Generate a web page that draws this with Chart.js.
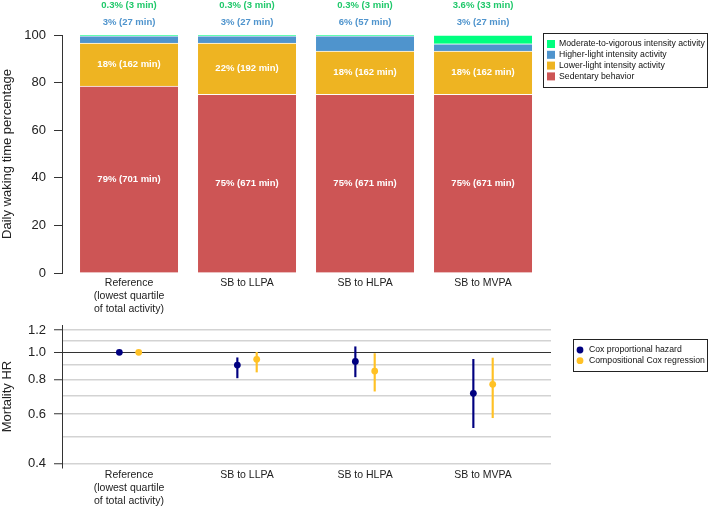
<!DOCTYPE html>
<html>
<head>
<meta charset="utf-8">
<script src="https://cdn.jsdelivr.net/npm/chart.js@4.4.1/dist/chart.umd.min.js"></script>
<style>
  body { margin: 0; background: #fff; }
  #wrap { position: relative; width: 709px; height: 508px; }
  canvas { position: absolute; left: 0; }
  #topChart { top: 0; }
  #hrChart { top: 317px; }
</style>
</head>
<body>
<div id="wrap">
  <canvas id="topChart" width="709" height="317"></canvas>
  <canvas id="hrChart" width="709" height="191"></canvas>
</div>
<script>
// ---------- Data ----------
const groups = [['Reference', '(lowest quartile', 'of total activity)'], 'SB to LLPA', 'SB to HLPA', 'SB to MVPA'];
const groupPos = [1, 2, 3, 4];

// daily waking time, percent
const sbPct   = [78.5, 75.1, 75.1, 75.1];
const llpaPct = [18.1, 21.5, 18.1, 18.1];
const hlpaPct = [3.1, 3.1, 6.5, 3.1];
const mvpaPct = [0.3, 0.3, 0.3, 3.7];

const sbText   = ['79% (701 min)', '75% (671 min)', '75% (671 min)', '75% (671 min)'];
const llpaText = ['18% (162 min)', '22% (192 min)', '18% (162 min)', '18% (162 min)'];
const hlpaText = ['3% (27 min)', '3% (27 min)', '6% (57 min)', '3% (27 min)'];
const mvpaText = ['0.3% (3 min)', '0.3% (3 min)', '0.3% (3 min)', '3.6% (33 min)'];

const pctTicks = [0, 20, 40, 60, 80, 100];

// mortality hazard ratios with 95% CI
const coxHR  = [1.0, 0.90, 0.928, 0.713];
const coxLo  = [null, 0.81, 0.817, 0.537];
const coxHi  = [null, 0.956, 1.047, 0.944];
const compHR = [1.0, 0.944, 0.857, 0.768];
const compLo = [null, 0.85, 0.726, 0.583];
const compHi = [null, 1.0, 0.99, 0.954];

const hrTicks = [0.4, 0.6, 0.8, 1.0, 1.2];
const hrGrid  = [0.4, 0.5, 0.6, 0.7, 0.8, 0.9, 1.0, 1.1, 1.2];

// ---------- Style ----------
const FONT = '"Liberation Sans", Arial, sans-serif';
const dodge = 0.082;
Chart.defaults.font.family = FONT;
Chart.defaults.color = '#222';

const toXY = vals => groupPos.map((x, i) => ({ x: x, y: vals[i] }));
const ptXY = (off, vals) => groupPos.map((x, i) => ({ x: x + off, y: vals[i] }));
const ciXY = (off, lo, hi) => groupPos
  .map((x, i) => (lo[i] == null ? null : { x: x + off, y: [lo[i], hi[i]] }))
  .filter(d => d);

// y axis: fixed width, no extra label padding above/below the plot
const fixY = s => { s.width = 62; s.paddingTop = 0; s.paddingBottom = 0; };

// ---------- Plugins ----------
const barLabels = {
  id: 'barLabels',
  afterDatasetsDraw(chart) {
    const { ctx, chartArea } = chart;
    ctx.save();
    ctx.font = 'bold 9.5px ' + FONT;
    ctx.textAlign = 'center';
    ctx.textBaseline = 'middle';
    [sbText, llpaText].forEach((texts, di) => {
      chart.getDatasetMeta(di).data.forEach((bar, i) => {
        ctx.fillStyle = '#fff';
        ctx.fillText(texts[i], bar.x, (bar.y + bar.base) / 2);
      });
    });
    chart.getDatasetMeta(2).data.forEach((bar, i) => {
      ctx.fillStyle = '#4F94CD';
      ctx.fillText(hlpaText[i], bar.x, chartArea.top - 13);
      ctx.fillStyle = '#1FC86A';
      ctx.fillText(mvpaText[i], bar.x, chartArea.top - 30);
    });
    ctx.restore();
  }
};

const boxLegend = {
  id: 'boxLegend',
  afterDraw(chart, args, o) {
    const { ctx } = chart;
    ctx.save();
    ctx.strokeStyle = '#222';
    ctx.lineWidth = 1;
    ctx.strokeRect(o.x + 0.5, o.y + 0.5, o.w, o.h);
    ctx.font = '8.7px ' + FONT;
    ctx.textBaseline = 'middle';
    o.items.forEach((di, k) => {
      const ds = chart.data.datasets[di];
      const cy = o.y + o.first + k * o.step;
      ctx.fillStyle = ds.backgroundColor;
      if (o.marker === 'circle') {
        ctx.beginPath();
        ctx.arc(o.x + o.mx, cy, 3.4, 0, Math.PI * 2);
        ctx.fill();
      } else {
        ctx.fillRect(o.x + o.mx - 4, cy - 4, 8, 8);
      }
      ctx.fillStyle = '#111';
      ctx.fillText(ds.label, o.x + o.tx, cy);
    });
    ctx.restore();
  }
};

const xAxis = (height, pad) => ({
  type: 'linear', min: 0.432, max: 4.576, stacked: true,
  offset: false, bounds: 'data',
  grid: { display: false, drawTicks: false, offset: false }, border: { display: false },
  afterBuildTicks: s => { s.ticks = groupPos.map(v => ({ value: v })); },
  afterFit: s => { s.height = height; },
  ticks: { autoSkip: false, maxRotation: 0, minRotation: 0, padding: pad,
    font: { size: 10.5, lineHeight: 1.24 }, callback: (v, i) => groups[i] }
});

// ---------- Stacked bars ----------
new Chart(document.getElementById('topChart'), {
  type: 'bar',
  data: {
    datasets: [
      { label: 'Sedentary behavior', data: toXY(sbPct), backgroundColor: '#CD5555' },
      { label: 'Lower-light intensity activity', data: toXY(llpaPct), backgroundColor: '#EEB422' },
      { label: 'Higher-light intensity activity', data: toXY(hlpaPct), backgroundColor: '#4F94CD' },
      { label: 'Moderate-to-vigorous intensity activity', data: toXY(mvpaPct), backgroundColor: '#00FF7F' }
    ]
  },
  options: {
    responsive: false,
    animation: false,
    layout: { padding: { top: 35, right: 158, bottom: 0, left: 0 } },
    datasets: { bar: { barThickness: 98, borderColor: 'rgba(255,255,255,0.75)', borderWidth: { top: 1 } } },
    plugins: {
      legend: { display: false },
      tooltip: { enabled: false },
      boxLegend: { x: 543, y: 33, w: 164, h: 54, first: 11, step: 10.8, mx: 8, tx: 16, marker: 'square', items: [3, 2, 1, 0] }
    },
    scales: {
      x: xAxis(44, 4),
      y: {
        min: 0, max: 100, stacked: true, bounds: 'data',
        afterBuildTicks: s => { s.ticks = pctTicks.map(v => ({ value: v })); },
        afterFit: fixY,
        grid: { drawOnChartArea: false, tickLength: 8, color: '#333' },
        border: { color: '#333' },
        ticks: { padding: 8, font: { size: 13 } },
        title: { display: true, text: 'Daily waking time percentage', font: { size: 13 }, padding: 0 }
      }
    }
  },
  plugins: [barLabels, boxLegend]
});

// ---------- Hazard ratios ----------
new Chart(document.getElementById('hrChart'), {
  type: 'scatter',
  data: {
    datasets: [
      { type: 'bar', label: 'Cox CI', data: ciXY(-dodge, coxLo, coxHi), backgroundColor: '#000080', barThickness: 1.5, grouped: false, order: 2 },
      { type: 'bar', label: 'Comp CI', data: ciXY(dodge, compLo, compHi), backgroundColor: '#FFC125', barThickness: 1.5, grouped: false, order: 2 },
      { label: 'Cox proportional hazard', data: ptXY(-dodge, coxHR), backgroundColor: '#000080', pointRadius: 3.4, borderWidth: 0, order: 1 },
      { label: 'Compositional Cox regression', data: ptXY(dodge, compHR), backgroundColor: '#FFC125', pointRadius: 3.4, borderWidth: 0, order: 1 }
    ]
  },
  options: {
    responsive: false,
    animation: false,
    layout: { padding: { top: 8, right: 158, bottom: 0, left: 0 } },
    plugins: {
      legend: { display: false },
      tooltip: { enabled: false },
      boxLegend: { x: 573, y: 22, w: 134, h: 32, first: 11, step: 10.7, mx: 7, tx: 16, marker: 'circle', items: [2, 3] }
    },
    scales: {
      x: xAxis(40, 1),
      y: {
        type: 'logarithmic', min: 0.385, max: 1.253, bounds: 'data',
        afterBuildTicks: s => { s.ticks = hrGrid.map(v => ({ value: v })); },
        afterFit: fixY,
        grid: {
          color: c => (c.tick && c.tick.value === 1 ? '#333' : '#d3d3d3'),
          lineWidth: c => (c.tick && c.tick.value === 1 ? 1 : 1.5),
          tickColor: c => (c.tick && hrTicks.includes(c.tick.value) ? '#333' : 'rgba(0,0,0,0)'),
          tickWidth: 1,
          tickLength: 8
        },
        border: { color: '#333' },
        ticks: { autoSkip: false, padding: 8, font: { size: 13 },
          callback: v => (hrTicks.includes(v) ? v.toFixed(1) : '') },
        title: { display: true, text: 'Mortality HR', font: { size: 13 }, padding: 0 }
      }
    }
  },
  plugins: [boxLegend]
});
</script>
</body>
</html>
